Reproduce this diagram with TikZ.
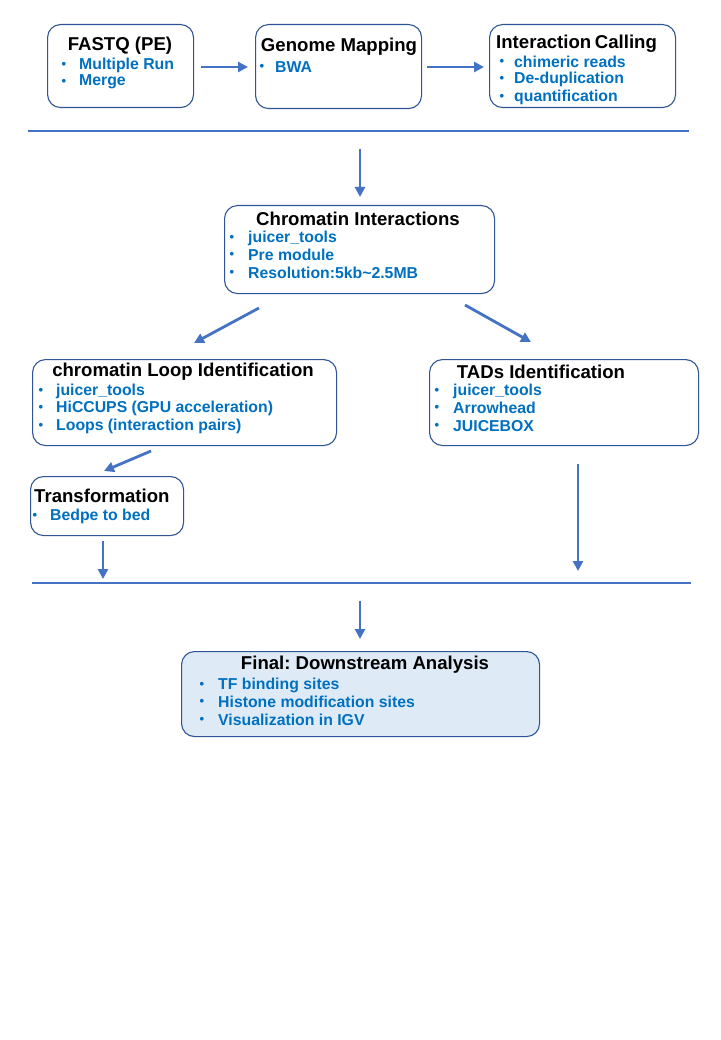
\documentclass[tikz,border=0pt]{standalone}
\usepackage{fontspec}
\setmainfont{Liberation Sans}
\usetikzlibrary{arrows.meta}
\frenchspacing
\definecolor{boxline}{HTML}{2F5597}
\definecolor{arr}{HTML}{4472C4}
\definecolor{txt}{HTML}{0070C0}
\definecolor{fillb}{HTML}{DEEBF7}
\tikzset{
  box/.style={draw=boxline, line width=1.1pt, rounded corners=13pt, anchor=north west, inner sep=0pt},
  ttl/.style={font=\bfseries\fontsize{18.6}{20}\selectfont, text=black, inner sep=0pt},
  itm/.style={font=\bfseries\fontsize{15.8}{17}\selectfont, text=txt, inner sep=0pt, anchor=west},
  bul/.style={font=\bfseries\fontsize{13}{14}\selectfont, text=txt, inner sep=0pt},
  arrw/.style={draw=arr, line width=2.8pt, -{Triangle[length=10pt,width=10pt]}},
  sep/.style={draw=arr, line width=1.6pt}
}
\begin{document}
\begin{tikzpicture}[x=1pt,y=-1pt]
\useasboundingbox (0,0) rectangle (720,1040);
\fill[white] (0,0) rectangle (720,1040);

% top row
\node[box, minimum width=146, minimum height=83] (b1) at (47,24) {};
\node[ttl] (t1) at (120,46) {FASTQ (PE)};
\node[bul] at (64,65) {•}; \node[itm] (i11) at (79,65) {Multiple Run};
\node[bul] at (64,82) {•}; \node[itm] (i12) at (79,82) {Merge};

\node[box, minimum width=166, minimum height=84] (b2) at (255,24) {};
\node[ttl] (t2) at (339,47) {Genome Mapping};
\node[bul] at (262,67) {•}; \node[itm] (i21) at (275,67) {BWA};

\node[box, minimum width=186, minimum height=83] (b3) at (489,24) {};
\node[ttl, anchor=west] (t3) at (496,44) {Interaction\hspace{-1.5pt} Calling};
\node[bul] at (502,62) {•}; \node[itm] (i31) at (514,62) {chimeric reads};
\node[bul] at (502,79) {•}; \node[itm] (i32) at (514,79) {De-duplication};
\node[bul] at (502,97) {•}; \node[itm] (i33) at (514,97) {quantification};

\coordinate (a1s) at (201,67); \coordinate (a1e) at (248,67);
\coordinate (a2s) at (427,67); \coordinate (a2e) at (484,67);
\draw[arrw] (a1s) -- (a1e);
\draw[arrw] (a2s) -- (a2e);

\coordinate (l1a) at (28,131); \coordinate (l1b) at (689,131);
\draw[sep] (l1a) -- (l1b);

\coordinate (a3s) at (360,149); \coordinate (a3e) at (360,197);
\draw[arrw] (a3s) -- (a3e);

% chromatin interactions
\node[box, minimum width=270, minimum height=88] (b4) at (224,205) {};
\node[ttl] (t4) at (358,219) {Chromatin Interactions};
\node[bul] at (232,238) {•}; \node[itm] (i41) at (248,238) {juicer\_tools};
\node[bul] at (232,255) {•}; \node[itm] (i42) at (248,255) {Pre module};
\node[bul] at (232,273) {•}; \node[itm] (i43) at (248,273) {Resolution:5kb\textasciitilde2.5MB};

\coordinate (a4s) at (259,308); \coordinate (a4e) at (194,343);
\coordinate (a5s) at (465,305); \coordinate (a5e) at (531,342);
\draw[arrw] (a4s) -- (a4e);
\draw[arrw] (a5s) -- (a5e);

% loop identification
\node[box, minimum width=304, minimum height=86] (b5) at (32,359) {};
\node[ttl] (t5) at (183,372) {chromatin Loop Identification};
\node[bul] at (41,391) {•}; \node[itm] (i51) at (56,391) {juicer\_tools};
\node[bul] at (41,408) {•}; \node[itm] (i52) at (56,408) {HiCCUPS (GPU acceleration)};
\node[bul] at (41,426) {•}; \node[itm] (i53) at (56,426) {Loops (interaction pairs)};

% TADs
\node[box, minimum width=269, minimum height=86] (b6) at (429,359) {};
\node[ttl] (t6) at (541,372) {TADs Identification};
\node[bul] at (437,391) {•}; \node[itm] (i61) at (453,391) {juicer\_tools};
\node[bul] at (437,408) {•}; \node[itm] (i62) at (453,408) {Arrowhead};
\node[bul] at (437,426) {•}; \node[itm] (i63) at (453,426) {JUICEBOX};

\coordinate (a6s) at (151,451); \coordinate (a6e) at (104,471);
\draw[arrw] (a6s) -- (a6e);

% transformation
\node[box, minimum width=153, minimum height=59] (b7) at (30,476) {};
\node[ttl, anchor=west] (t7) at (34,496) {Transformation};
\node[bul] at (35,516) {•}; \node[itm] (i71) at (50,516) {Bedpe to bed};

\coordinate (a7s) at (103,541); \coordinate (a7e) at (103,579);
\coordinate (a8s) at (578,464); \coordinate (a8e) at (578,571);
\draw[arrw] (a7s) -- (a7e);
\draw[arrw] (a8s) -- (a8e);

\coordinate (l2a) at (32,583); \coordinate (l2b) at (691,583);
\draw[sep] (l2a) -- (l2b);

\coordinate (a9s) at (360,601); \coordinate (a9e) at (360,639);
\draw[arrw] (a9s) -- (a9e);

% final
\node[box, fill=fillb, minimum width=358, minimum height=85] (b8) at (181,651) {};
\node[ttl] (t8) at (365,665) {Final: Downstream Analysis};
\node[bul] at (202,685) {•}; \node[itm] (i81) at (218,685) {TF binding sites};
\node[bul] at (202,702) {•}; \node[itm] (i82) at (218,702) {Histone modification sites};
\node[bul] at (202,720) {•}; \node[itm] (i83) at (218,720) {Visualization in IGV};
\end{tikzpicture}
\end{document}
